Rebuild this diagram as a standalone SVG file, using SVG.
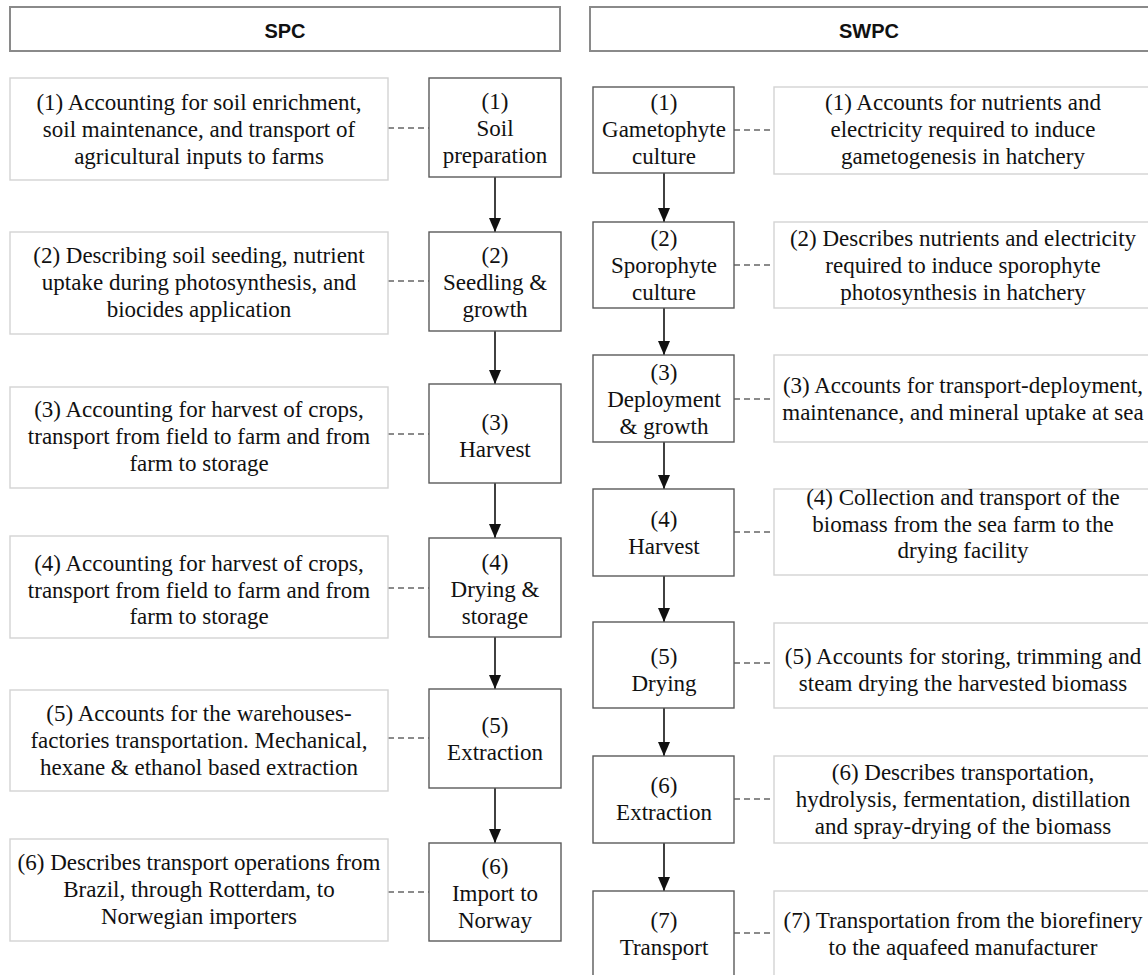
<svg xmlns="http://www.w3.org/2000/svg" width="1148" height="975" viewBox="0 0 1148 975">
<defs>
<marker id="ah" markerUnits="userSpaceOnUse" markerWidth="14" markerHeight="12" refX="14" refY="6" orient="auto">
<path d="M0,0 L14,6 L0,12 z" fill="#111"/>
</marker>
<style>
.hdr{fill:#fff;stroke:#8a8a8a;stroke-width:2}
.ht{font-weight:bold;font-size:20px;fill:#111;text-anchor:middle}
.node{fill:#fff;stroke:#5a5a5a;stroke-width:1.4}
.desc{fill:#fff;stroke:#d3d3d3;stroke-width:1.4}
.t{font-size:23px;fill:#111;text-anchor:middle}
.dash{stroke:#666;stroke-width:1.3;stroke-dasharray:6 4;fill:none}
.arr{stroke:#111;stroke-width:1.6;fill:none;marker-end:url(#ah)}
</style>
</defs>
<rect width="1148" height="975" fill="#fff"/>

<g font-family="Liberation Sans, Arial, sans-serif">
<g id="hdr-spc"><rect class="hdr" x="10" y="7" width="550" height="44"/><text class="ht" x="285" y="38">SPC</text></g>
<g id="hdr-swpc"><rect class="hdr" x="590" y="7" width="570" height="44"/><text class="ht" x="869" y="38">SWPC</text></g>
</g>

<g id="connectors">
<line class="arr" x1="495" y1="177" x2="495" y2="232"/>
<line class="arr" x1="495" y1="331" x2="495" y2="384"/>
<line class="arr" x1="495" y1="483" x2="495" y2="538"/>
<line class="arr" x1="495" y1="637" x2="495" y2="689"/>
<line class="arr" x1="495" y1="788" x2="495" y2="843"/>
<line class="arr" x1="664" y1="173" x2="664" y2="222"/>
<line class="arr" x1="664" y1="308" x2="664" y2="355"/>
<line class="arr" x1="664" y1="442" x2="664" y2="489"/>
<line class="arr" x1="664" y1="576" x2="664" y2="622"/>
<line class="arr" x1="664" y1="708" x2="664" y2="756"/>
<line class="arr" x1="664" y1="843" x2="664" y2="891"/>
<line class="dash" x1="388" y1="128" x2="429" y2="128"/>
<line class="dash" x1="388" y1="281" x2="429" y2="281"/>
<line class="dash" x1="388" y1="434" x2="429" y2="434"/>
<line class="dash" x1="388" y1="588" x2="429" y2="588"/>
<line class="dash" x1="388" y1="738" x2="429" y2="738"/>
<line class="dash" x1="388" y1="892" x2="429" y2="892"/>
<line class="dash" x1="734" y1="130" x2="774" y2="130"/>
<line class="dash" x1="734" y1="265" x2="774" y2="265"/>
<line class="dash" x1="734" y1="399" x2="774" y2="399"/>
<line class="dash" x1="734" y1="532" x2="774" y2="532"/>
<line class="dash" x1="734" y1="663" x2="774" y2="663"/>
<line class="dash" x1="734" y1="799" x2="774" y2="799"/>
<line class="dash" x1="734" y1="933" x2="774" y2="933"/>
</g>

<g font-family="Liberation Serif, Times New Roman, Tinos, DejaVu Serif, serif">
<!-- SPC column -->
<g id="spc-d1"><rect class="desc" x="10" y="78" width="378" height="102"/>
<text class="t" x="199" y="110">(1) Accounting for soil enrichment,</text>
<text class="t" x="199" y="137">soil maintenance, and transport of</text>
<text class="t" x="199" y="164">agricultural inputs to farms</text></g>
<g id="spc-n1"><rect class="node" x="429" y="78" width="132" height="99"/>
<text class="t" x="495" y="109">(1)</text><text class="t" x="495" y="136">Soil</text><text class="t" x="495" y="163">preparation</text></g>

<g id="spc-d2"><rect class="desc" x="10" y="232" width="378" height="102"/>
<text class="t" x="199" y="263">(2) Describing soil seeding, nutrient</text>
<text class="t" x="199" y="290">uptake during photosynthesis, and</text>
<text class="t" x="199" y="317">biocides application</text></g>
<g id="spc-n2"><rect class="node" x="429" y="232" width="132" height="99"/>
<text class="t" x="495" y="263">(2)</text><text class="t" x="495" y="290">Seedling &amp;</text><text class="t" x="495" y="317">growth</text></g>

<g id="spc-d3"><rect class="desc" x="10" y="387" width="378" height="101"/>
<text class="t" x="199" y="417">(3) Accounting for harvest of crops,</text>
<text class="t" x="199" y="444">transport from field to farm and from</text>
<text class="t" x="199" y="471">farm to storage</text></g>
<g id="spc-n3"><rect class="node" x="429" y="384" width="132" height="99"/>
<text class="t" x="495" y="430">(3)</text><text class="t" x="495" y="457">Harvest</text></g>

<g id="spc-d4"><rect class="desc" x="10" y="536" width="378" height="102"/>
<text class="t" x="199" y="571">(4) Accounting for harvest of crops,</text>
<text class="t" x="199" y="598">transport from field to farm and from</text>
<text class="t" x="199" y="624">farm to storage</text></g>
<g id="spc-n4"><rect class="node" x="429" y="538" width="132" height="99"/>
<text class="t" x="495" y="570">(4)</text><text class="t" x="495" y="597">Drying &amp;</text><text class="t" x="495" y="624">storage</text></g>

<g id="spc-d5"><rect class="desc" x="10" y="690" width="378" height="101"/>
<text class="t" x="199" y="721">(5) Accounts for the warehouses-</text>
<text class="t" x="199" y="748">factories transportation. Mechanical,</text>
<text class="t" x="199" y="775">hexane &amp; ethanol based extraction</text></g>
<g id="spc-n5"><rect class="node" x="429" y="689" width="132" height="99"/>
<text class="t" x="495" y="733">(5)</text><text class="t" x="495" y="760">Extraction</text></g>

<g id="spc-d6"><rect class="desc" x="10" y="839" width="378" height="102"/>
<text class="t" x="199" y="870">(6) Describes transport operations from</text>
<text class="t" x="199" y="897">Brazil, through Rotterdam, to</text>
<text class="t" x="199" y="924">Norwegian importers</text></g>
<g id="spc-n6"><rect class="node" x="429" y="843" width="132" height="98"/>
<text class="t" x="495" y="874">(6)</text><text class="t" x="495" y="901">Import to</text><text class="t" x="495" y="928">Norway</text></g>

<!-- SWPC column -->
<g id="swpc-n1"><rect class="node" x="593" y="87" width="141" height="86"/>
<text class="t" x="664" y="110">(1)</text><text class="t" x="664" y="137">Gametophyte</text><text class="t" x="664" y="164">culture</text></g>
<g id="swpc-d1"><rect class="desc" x="774" y="87" width="378" height="87"/>
<text class="t" x="963" y="110">(1) Accounts for nutrients and</text>
<text class="t" x="963" y="137">electricity required to induce</text>
<text class="t" x="963" y="164">gametogenesis in hatchery</text></g>

<g id="swpc-n2"><rect class="node" x="593" y="222" width="141" height="86"/>
<text class="t" x="664" y="246">(2)</text><text class="t" x="664" y="273">Sporophyte</text><text class="t" x="664" y="300">culture</text></g>
<g id="swpc-d2"><rect class="desc" x="774" y="222" width="378" height="86"/>
<text class="t" x="963" y="246">(2) Describes nutrients and electricity</text>
<text class="t" x="963" y="273">required to induce sporophyte</text>
<text class="t" x="963" y="300">photosynthesis in hatchery</text></g>

<g id="swpc-n3"><rect class="node" x="593" y="355" width="141" height="87"/>
<text class="t" x="664" y="380">(3)</text><text class="t" x="664" y="407">Deployment</text><text class="t" x="664" y="434">&amp; growth</text></g>
<g id="swpc-d3"><rect class="desc" x="774" y="355" width="378" height="87"/>
<text class="t" x="963" y="393">(3) Accounts for transport-deployment,</text>
<text class="t" x="963" y="420">maintenance, and mineral uptake at sea</text></g>

<g id="swpc-n4"><rect class="node" x="593" y="489" width="141" height="87"/>
<text class="t" x="664" y="527">(4)</text><text class="t" x="664" y="554">Harvest</text></g>
<g id="swpc-d4"><rect class="desc" x="774" y="489" width="378" height="86"/>
<text class="t" x="963" y="505">(4) Collection and transport of the</text>
<text class="t" x="963" y="532">biomass from the sea farm to the</text>
<text class="t" x="963" y="558">drying facility</text></g>

<g id="swpc-n5"><rect class="node" x="593" y="622" width="141" height="86"/>
<text class="t" x="664" y="664">(5)</text><text class="t" x="664" y="691">Drying</text></g>
<g id="swpc-d5"><rect class="desc" x="774" y="623" width="378" height="85"/>
<text class="t" x="963" y="664">(5) Accounts for storing, trimming and</text>
<text class="t" x="963" y="691">steam drying the harvested biomass</text></g>

<g id="swpc-n6"><rect class="node" x="593" y="756" width="141" height="87"/>
<text class="t" x="664" y="793">(6)</text><text class="t" x="664" y="820">Extraction</text></g>
<g id="swpc-d6"><rect class="desc" x="774" y="756" width="378" height="87"/>
<text class="t" x="963" y="780">(6) Describes transportation,</text>
<text class="t" x="963" y="807">hydrolysis, fermentation, distillation</text>
<text class="t" x="963" y="834">and spray-drying of the biomass</text></g>

<g id="swpc-n7"><rect class="node" x="593" y="891" width="141" height="92"/>
<text class="t" x="664" y="928">(7)</text><text class="t" x="664" y="955">Transport</text></g>
<g id="swpc-d7"><rect class="desc" x="774" y="891" width="378" height="92"/>
<text class="t" x="963" y="928">(7) Transportation from the biorefinery</text>
<text class="t" x="963" y="955">to the aquafeed manufacturer</text></g>
</g>
</svg>
